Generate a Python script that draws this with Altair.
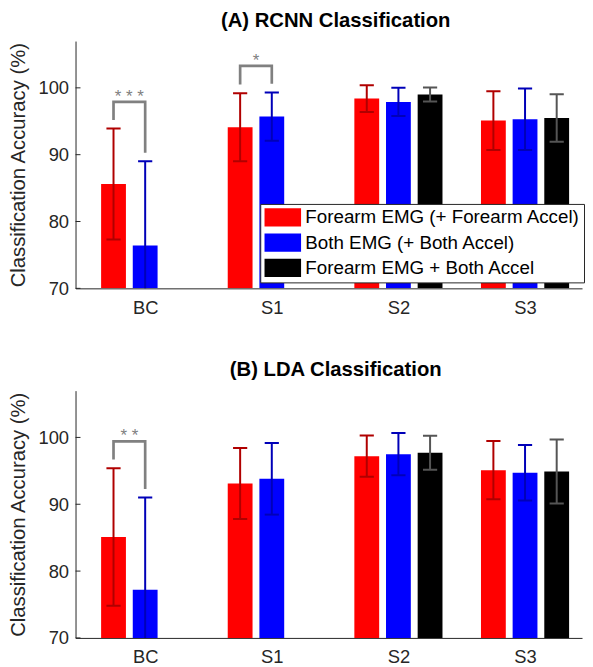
import json
import altair as alt
import pandas as pd

# ---------------- data ----------------
categories = ["BC", "S1", "S2", "S3"]
series_names = [
    "Forearm EMG (+ Forearm Accel)",
    "Both EMG (+ Both Accel)",
    "Forearm EMG + Both Accel",
]
bar_colors = ["#ff0000", "#0000ff", "#000000"]
err_colors = ["#b00000", "#0000b8", "#555555"]

# (A) RCNN classification: mean and standard deviation (%)
rcnn_forearm_mean = [85.6, 94.1, 98.4, 95.1]
rcnn_forearm_sd = [8.3, 5.1, 2.0, 4.4]
rcnn_both_mean = [76.4, 95.7, 97.9, 95.3]
rcnn_both_sd = [12.6, 3.6, 2.1, 4.6]
rcnn_mixed_mean = [None, None, 99.0, 95.5]
rcnn_mixed_sd = [None, None, 1.05, 3.55]
rcnn_sig_cats = ["BC", "S1"]
rcnn_sig_labels = ["* * *", "*"]

# (B) LDA classification
lda_forearm_mean = [85.1, 93.1, 97.2, 95.1]
lda_forearm_sd = [10.3, 5.3, 3.1, 4.35]
lda_both_mean = [77.2, 93.8, 97.5, 94.7]
lda_both_sd = [13.8, 5.35, 3.15, 4.15]
lda_mixed_mean = [None, None, 97.7, 94.9]
lda_mixed_sd = [None, None, 2.55, 4.8]
lda_sig_cats = ["BC"]
lda_sig_labels = ["* *"]

y_ticks = [70, 80, 90, 100]

# ---------------- styling ----------------
FONT = "Liberation Sans"
AX = "#262626"
SIG = "#808080"
PLOT_W = 510
PLOT_H = 249
Y_MIN, Y_MAX = 70, 107
X_MIN, X_MAX = 0.45, 4.45
OFFSET = 0.25
HALF_BAR = 0.098
HALF_CAP = 0.056
SW_H = 18.4  # legend swatch height (px); swatch is twice as wide

xscale = alt.Scale(domain=[X_MIN, X_MAX], nice=False, zero=False)
yscale = alt.Scale(domain=[Y_MIN, Y_MAX], nice=False, zero=False)
xaxis = alt.Axis(
    values=[1, 2, 3, 4],
    labelExpr=f"{json.dumps(categories)}[datum.value - 1]",
    ticks=False, grid=False, domainColor=AX, domainWidth=1,
    labelFont=FONT, labelFontSize=18.5, labelColor=AX, labelPadding=10,
    labelAngle=0,
)
yaxis = alt.Axis(
    values=y_ticks, ticks=False, grid=False, domainColor=AX, domainWidth=1,
    labelFont=FONT, labelFontSize=18.5, labelColor=AX, labelPadding=7,
    titleFont=FONT, titleFontSize=20.4, titleFontWeight="normal",
    titleColor=AX, titlePadding=9.5,
)
YTITLE = "Classification Accuracy (%)"


def X(field):
    return alt.X(field, type="quantitative", scale=xscale, axis=xaxis, title=None)


def Y(field):
    return alt.Y(field, type="quantitative", scale=yscale, axis=yaxis, title=YTITLE)


def build(means_list, sds_list):
    rows = []
    for si, (name, means, sds) in enumerate(zip(series_names, means_list, sds_list)):
        for ci, cat in enumerate(categories):
            if means[ci] is None:
                continue
            rows.append(dict(cat=cat, ci=ci + 1, series=name, si=si,
                             mean=means[ci], sd=sds[ci]))
    return pd.DataFrame(rows)


def brackets(sig_cats, sig_labels, a_mean, a_sd, b_mean, b_sd):
    pts, txt = [], []
    for cat, lab in zip(sig_cats, sig_labels):
        ci = categories.index(cat)
        ta = a_mean[ci] + a_sd[ci]
        tb = b_mean[ci] + b_sd[ci]
        h = max(ta, tb) + 4.0
        xa = ci + 1 - OFFSET
        xb = ci + 1
        for o, (bx, by) in enumerate([(xa, ta + 1.3), (xa, h), (xb, h), (xb, tb + 1.3)]):
            pts.append(dict(cat=cat, o=o, bx=bx, by=by))
        txt.append(dict(cat=cat, lab=lab, tx=(xa + xb) / 2, ty=h))
    return pd.DataFrame(pts), pd.DataFrame(txt)


def panel(df, pts, txt, title, show_legend):
    base = alt.Chart(df).transform_calculate(
        xc=f"datum.ci + (datum.si - 1) * {OFFSET}",
    ).transform_calculate(
        xl=f"datum.xc - {HALF_BAR}",
        xr=f"datum.xc + {HALF_BAR}",
        cl=f"datum.xc - {HALF_CAP}",
        cr=f"datum.xc + {HALF_CAP}",
        lo="datum.mean - datum.sd",
        hi="datum.mean + datum.sd",
    )
    if show_legend:
        legend = alt.Legend(
            title=None, orient="none", legendX=186, legendY=164,
            symbolType="M-1,-1H3V1H-1Z", symbolSize=SW_H * SW_H,
            symbolStrokeWidth=0, symbolOpacity=1,
            labelFont=FONT, labelFontSize=18.9, labelColor="#000000",
            labelOffset=SW_H + 4, labelLimit=500, rowPadding=5.4, padding=4,
            fillColor="#ffffff", strokeColor=AX,
        )
    else:
        legend = None
    bars = base.mark_rect(clip=True).encode(
        x=X("xl"), x2="xr:Q", y=Y("mean"), y2=alt.datum(Y_MIN),
        fill=alt.Fill("series:N", scale=alt.Scale(domain=series_names, range=bar_colors),
                      legend=legend, sort=series_names),
    )
    stroke = alt.Stroke("series:N", scale=alt.Scale(domain=series_names, range=err_colors),
                        legend=None)
    err = base.mark_rule(clip=True, strokeWidth=2).encode(
        x=X("xc"), y=Y("lo"), y2="hi:Q", stroke=stroke)
    cap_hi = base.mark_rule(clip=True, strokeWidth=2).encode(
        x=X("cl"), x2="cr:Q", y=Y("hi"), stroke=stroke)
    cap_lo = base.mark_rule(clip=True, strokeWidth=2).encode(
        x=X("cl"), x2="cr:Q", y=Y("lo"), stroke=stroke)
    yt = alt.Chart(pd.DataFrame({"v": y_ticks})).mark_rule(color=AX, strokeWidth=1).encode(
        y=Y("v"), x=alt.value(0), x2=alt.value(5))
    br = alt.Chart(pts).mark_line(color=SIG, strokeWidth=2.7, strokeJoin="miter").encode(
        x=X("bx"), y=Y("by"), order="o:Q", detail="cat:N")
    st = alt.Chart(txt).mark_text(font=FONT, fontSize=17, color=SIG,
                                  baseline="alphabetic", dy=0).encode(
        x=X("tx"), y=Y("ty"), text="lab:N")
    return alt.layer(bars, err, cap_hi, cap_lo, yt, br, st).properties(
        width=PLOT_W, height=PLOT_H,
        title=alt.TitleParams(title, font=FONT, fontSize=20.4, fontWeight="bold",
                              color="#000000", anchor="middle", dx=7, offset=10),
    )


rcnn_df = build([rcnn_forearm_mean, rcnn_both_mean, rcnn_mixed_mean],
                [rcnn_forearm_sd, rcnn_both_sd, rcnn_mixed_sd])
lda_df = build([lda_forearm_mean, lda_both_mean, lda_mixed_mean],
               [lda_forearm_sd, lda_both_sd, lda_mixed_sd])
rp, rt = brackets(rcnn_sig_cats, rcnn_sig_labels, rcnn_forearm_mean, rcnn_forearm_sd,
                  rcnn_both_mean, rcnn_both_sd)
lp, lt = brackets(lda_sig_cats, lda_sig_labels, lda_forearm_mean, lda_forearm_sd,
                  lda_both_mean, lda_both_sd)

top = panel(rcnn_df, rp, rt, "(A) RCNN Classification", True)
bottom = panel(lda_df, lp, lt, "(B) LDA Classification", False)

chart = alt.vconcat(top, bottom, spacing=43).resolve_legend(
    fill="independent", stroke="independent"
).configure_view(stroke=None).properties(padding=0, background="#ffffff")

chart.save("out.html", embed_options={"renderer": "svg", "actions": False})
